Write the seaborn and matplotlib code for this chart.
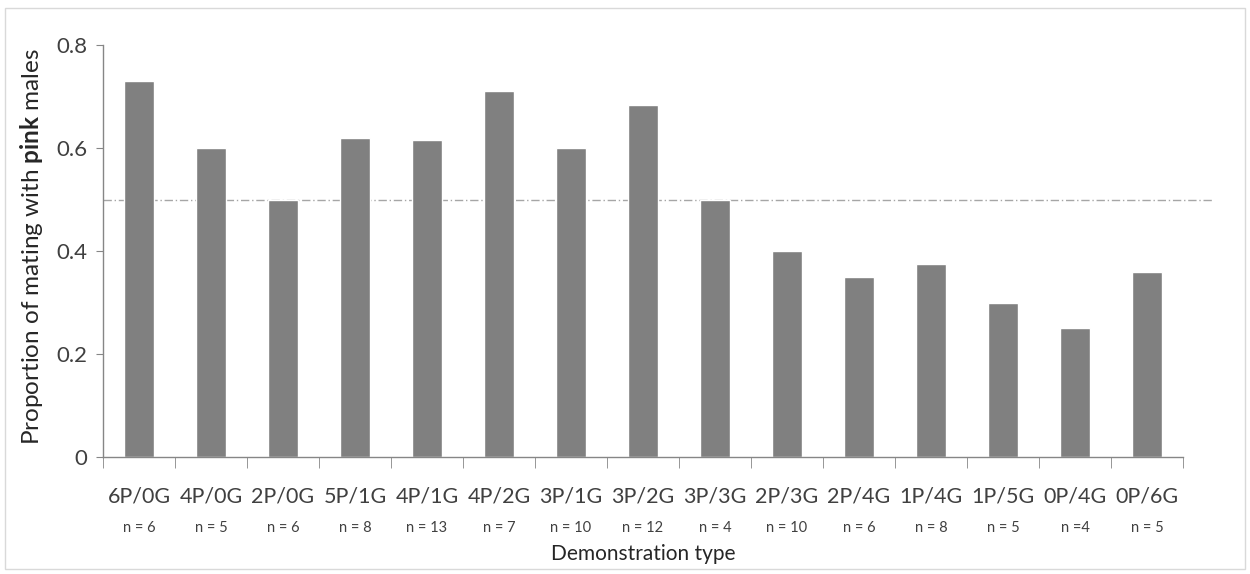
import matplotlib
matplotlib.use("Agg")
import matplotlib.pyplot as plt
import matplotlib.patches as mpatches
import pandas as pd
import seaborn as sns

# values
demo_types = ["6P/0G", "4P/0G", "2P/0G", "5P/1G", "4P/1G", "4P/2G", "3P/1G", "3P/2G",
              "3P/3G", "2P/3G", "2P/4G", "1P/4G", "1P/5G", "0P/4G", "0P/6G"]
prop_pink = [0.73, 0.60, 0.50, 0.62, 0.615, 0.71, 0.60, 0.683,
             0.50, 0.40, 0.35, 0.375, 0.30, 0.25, 0.36]
n_labels = ["n = 6", "n = 5", "n = 6", "n = 8", "n = 13", "n = 7", "n = 10", "n = 12",
            "n = 4", "n = 10", "n = 6", "n = 8", "n = 5", "n =4", "n = 5"]
chance = 0.5

df = pd.DataFrame({"type": demo_types, "prop": prop_pink})

sns.set_style("white")
plt.rcParams["font.family"] = ["Lato", "DejaVu Sans"]
plt.rcParams["mathtext.fontset"] = "custom"
plt.rcParams["mathtext.rm"] = "Lato"
plt.rcParams["mathtext.bf"] = "Lato:bold"

fig = plt.figure(figsize=(12.5, 5.74), dpi=100)
ax = fig.add_axes([0.0824, 0.2038, 0.864, 0.7178])

sns.barplot(data=df, x="type", y="prop", color="#808080", saturation=1,
            width=0.41, ax=ax)

ax.set_xlim(-0.5, len(demo_types) - 0.5)
ax.set_ylim(0, 0.8)
ax.set_yticks([0, 0.2, 0.4, 0.6, 0.8])
ax.set_yticklabels(["0", "0.2", "0.4", "0.6", "0.8"])

# dash-dot reference line at 0.5, runs a bit past the axis
ax.plot([-0.5, 14.92], [chance, chance], color="#a6a6a6", lw=1.0,
        ls=(0, (6, 2, 1, 2)), clip_on=False, zorder=0)

for s in ["top", "right"]:
    ax.spines[s].set_visible(False)
for s in ["left", "bottom"]:
    ax.spines[s].set_color("#868686")
    ax.spines[s].set_linewidth(1.0)

ax.tick_params(axis="y", which="major", length=5, color="#868686",
               labelsize=16, labelcolor="#404040", pad=6, left=True)
ax.set_xticks([i - 0.5 for i in range(len(demo_types) + 1)], minor=True)
ax.tick_params(axis="x", which="minor", length=8, color="#868686", bottom=True)
ax.tick_params(axis="x", which="major", length=0, labelsize=15.5,
               labelcolor="#404040", pad=21)

for i, lab in enumerate(n_labels):
    ax.text(i, -0.172, lab, transform=ax.get_xaxis_transform(), ha="center",
            va="center", fontsize=10.5, color="#404040")

ax.set_xlabel("Demonstration type", fontsize=15, color="#262626")
ax.xaxis.set_label_coords(0.5, -0.212)
ax.set_ylabel(r"Proportion of mating with $\mathbf{pink}$ males", fontsize=17.5,
              color="#262626")
ax.yaxis.set_label_coords(-0.054, 0.51)

# thin frame around the whole chart
fig.patches.append(mpatches.Rectangle((0.004, 0.008), 0.992, 0.978,
                                      transform=fig.transFigure, fill=False,
                                      edgecolor="#d9d9d9", lw=1.0))

fig.savefig("out.png", dpi=100, facecolor="white")
